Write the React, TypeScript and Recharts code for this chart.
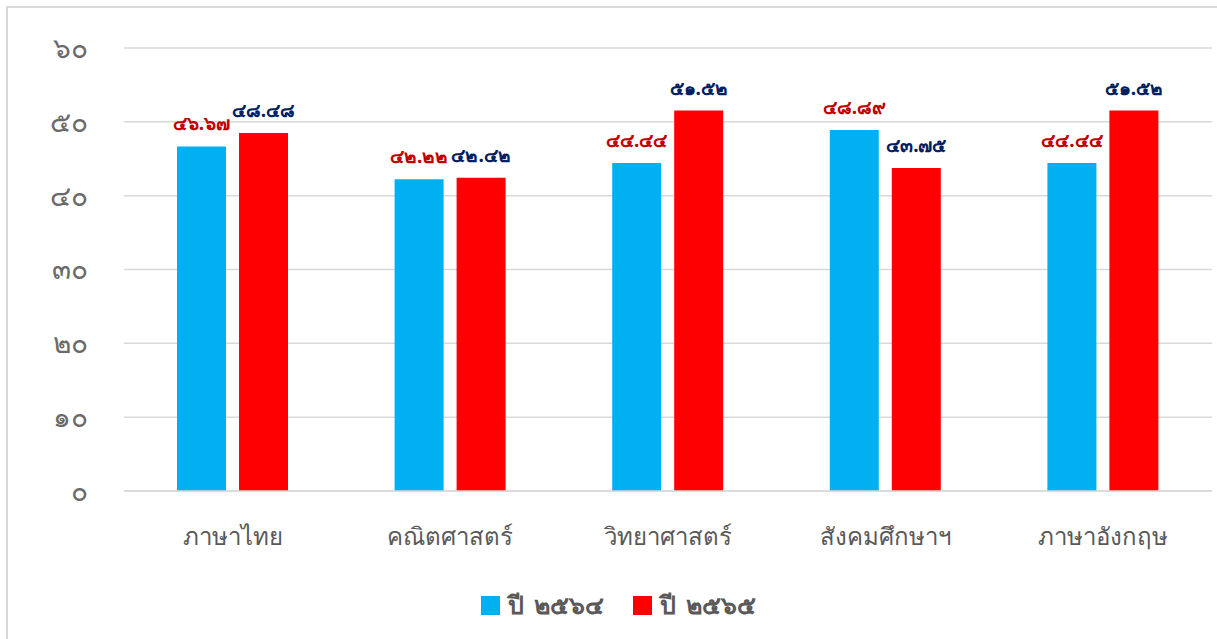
import React from "react";
import { BarChart, Bar, XAxis, YAxis, CartesianGrid, Legend, LabelList } from "recharts";

const subjects = ["ภาษาไทย", "คณิตศาสตร์", "วิทยาศาสตร์", "สังคมศึกษาฯ", "ภาษาอังกฤษ"];
const year2564 = [46.67, 42.22, 44.44, 48.89, 44.44];
const year2565 = [48.48, 42.42, 51.52, 43.75, 51.52];
const yTicks = [0, 10, 20, 30, 40, 50, 60];

const seriesNames = ["ปี ๒๕๖๔", "ปี ๒๕๖๕"];
const BLUE = "#00B0F0";
const RED = "#FF0000";
const FONT = "Tahoma, 'Noto Sans', sans-serif";

const thaiDigits = "๐๑๒๓๔๕๖๗๘๙";
const toThai = (s: string) => s.replace(/[0-9]/g, (d) => thaiDigits[Number(d)]);

const data = subjects.map((name, i) => ({ name, y64: year2564[i], y65: year2565[i] }));

function LegendContent() {
  const items = [
    { label: seriesNames[0], color: BLUE },
    { label: seriesNames[1], color: RED },
  ];
  return (
    <div style={{ display: "flex", justifyContent: "center", gap: 28, fontFamily: FONT, paddingLeft: 20 }}>
      {items.map((it) => (
        <div key={it.label} style={{ display: "flex", alignItems: "center", gap: 8 }}>
          <span style={{ width: 19, height: 19, background: it.color, display: "inline-block" }} />
          <span style={{ fontSize: 25, fontWeight: "bold", color: "#595959", wordSpacing: 4 }}>{it.label}</span>
        </div>
      ))}
    </div>
  );
}

export default function App() {
  return (
    <div style={{ position: "absolute", left: 0, top: 0, width: 1217, height: 639, background: "#fff", overflow: "hidden" }}>
      <div
        style={{
          position: "absolute", left: 6, top: 6, width: 1300, height: 700,
          borderTop: "2px solid #d9d9d9", borderLeft: "2px solid #d9d9d9",
        }}
      />
      <BarChart
        width={1217}
        height={639}
        data={data}
        margin={{ top: 48, right: 5, bottom: 0, left: 0 }}
        barGap={13}
        barSize={49}
        style={{ fontFamily: FONT }}
      >
        <CartesianGrid vertical={false} stroke="#d9d9d9" strokeWidth={1.5} />
        <XAxis
          dataKey="name"
          height={148}
          axisLine={{ stroke: "#d9d9d9", strokeWidth: 1.5 }}
          tickLine={false}
          tickSize={0}
          tickMargin={37}
          tick={{ fontSize: 24, fill: "#595959" }}
        />
        <YAxis
          width={124}
          domain={[0, 60]}
          ticks={yTicks}
          axisLine={false}
          tickLine={false}
          tickSize={0}
          tickMargin={36}
          tick={{ fontSize: 28, fill: "#6a6a6a" }}
          tickFormatter={(v: number) => toThai(String(v))}
        />
        <Legend
          verticalAlign="middle"
          align="center"
          wrapperStyle={{ top: 585, left: 0, width: 1217 }}
          content={<LegendContent />}
        />
        <Bar dataKey="y64" name={seriesNames[0]} fill={BLUE} isAnimationActive={false}>
          <LabelList
            dataKey="y64"
            position="top"
            offset={16}
            formatter={(v: number) => toThai(Number(v).toFixed(2))}
            style={{ fontSize: 19, fontWeight: "bold", fill: "#C00000" }}
          />
        </Bar>
        <Bar dataKey="y65" name={seriesNames[1]} fill={RED} isAnimationActive={false}>
          <LabelList
            dataKey="y65"
            position="top"
            offset={16}
            formatter={(v: number) => toThai(Number(v).toFixed(2))}
            style={{ fontSize: 19, fontWeight: "bold", fill: "#002060" }}
          />
        </Bar>
      </BarChart>
    </div>
  );
}
